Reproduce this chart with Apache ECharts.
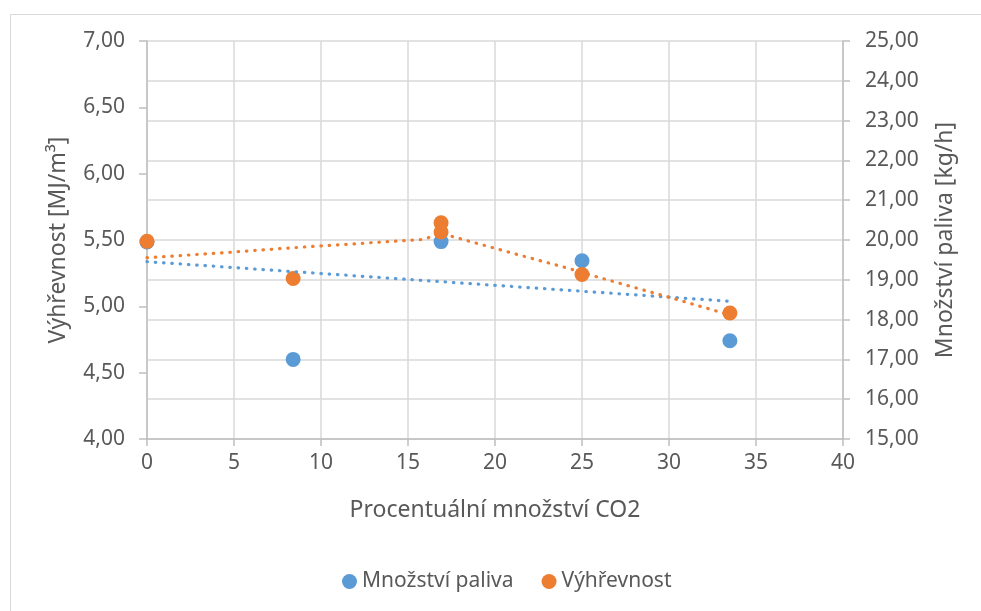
<!DOCTYPE html>
<html>
<head>
<meta charset="utf-8">
<script src="https://cdn.jsdelivr.net/npm/echarts@6/dist/echarts.min.js"></script>
<style>
html,body{margin:0;padding:0;background:#fff;}
#c{width:981px;height:611px;}
</style>
</head>
<body>
<div id="c"></div>
<script>
// Data
var seriesNames = ['Množství paliva', 'Výhřevnost'];
var blueX = [0, 8.4, 16.9, 25, 33.5];
var blueY = [19.95, 17.0, 19.96, 19.48, 17.47];          // kg/h (right axis)
var orangeX = [0, 8.4, 16.9, 16.9, 25, 33.5];
var orangeY = [5.49, 5.21, 5.63, 5.56, 5.24, 4.95];      // MJ/m3 (left axis)
// trendlines
var blueTrendX = [0, 33.5];
var blueTrendY = [19.455, 18.46];
var orangeTrendX = [0, 4.2, 8.4, 12, 15.9, 16.9, 20.5, 24.2, 25.9, 30.1, 33.5];
var orangeTrendY = [5.367, 5.402, 5.442, 5.472, 5.505, 5.55, 5.419, 5.287, 5.221, 5.065, 4.935];

var xTitle = 'Procentuální množství CO2';
var yLeftTitle = 'Výhřevnost [MJ/m³]';
var yRightTitle = 'Množství paliva [kg/h]';

function zip(a, b) { return a.map(function (v, i) { return [v, b[i]]; }); }
function fmt(v) { return v.toFixed(2).replace('.', ','); }

var BLUE = '#5B9BD5', ORANGE = '#ED7D31', TXT = '#595959', GRID = '#D9D9D9', AX = '#BFBFBF';
var FONT = 'Noto Sans';

var chart = echarts.init(document.getElementById('c'));
chart.setOption({
  animation: false,
  textStyle: { fontFamily: FONT },
  graphic: [{
    type: 'rect', left: 8, top: 12, shape: { width: 1000, height: 700 },
    style: { fill: 'none', stroke: GRID, lineWidth: 1 }, silent: true
  }],
  grid: { left: 147, right: 138, top: 41, bottom: 172 },
  legend: {
    data: seriesNames, bottom: 14, left: 337, icon: 'circle',
    itemWidth: 15, itemHeight: 15, itemGap: 28,
    textStyle: { color: TXT, fontSize: 21, fontFamily: FONT }
  },
  xAxis: {
    type: 'value', min: 0, max: 40, interval: 5,
    name: xTitle, nameLocation: 'middle', nameGap: 60,
    nameTextStyle: { color: TXT, fontSize: 23, fontFamily: FONT },
    axisLine: { show: true, lineStyle: { color: AX, width: 1.5 } },
    axisTick: { show: true, length: 7, lineStyle: { color: AX, width: 1.5 } },
    axisLabel: { color: TXT, fontSize: 21, margin: 14, fontFamily: FONT },
    splitLine: { show: true, lineStyle: { color: GRID, width: 1.5 } }
  },
  yAxis: [{
    type: 'value', min: 4, max: 7, interval: 0.5, position: 'left',
    name: yLeftTitle, nameLocation: 'middle', nameGap: 77,
    nameTextStyle: { color: TXT, fontSize: 23, fontFamily: FONT },
    axisLine: { show: true, lineStyle: { color: AX, width: 1.5 } },
    axisTick: { show: true, length: 8, lineStyle: { color: AX, width: 1.5 } },
    axisLabel: { color: TXT, fontSize: 21, margin: 22, formatter: fmt, fontFamily: FONT },
    splitLine: { show: false }
  }, {
    type: 'value', min: 15, max: 25, interval: 1, position: 'right',
    name: yRightTitle, nameLocation: 'middle', nameGap: 91, nameRotate: 90,
    nameTextStyle: { color: TXT, fontSize: 23, fontFamily: FONT },
    axisLine: { show: true, lineStyle: { color: AX, width: 1.5 } },
    axisTick: { show: true, length: 7, lineStyle: { color: AX, width: 1.5 } },
    axisLabel: { color: TXT, fontSize: 21, margin: 22, formatter: fmt, fontFamily: FONT },
    splitLine: { show: true, lineStyle: { color: GRID, width: 1.5 } }
  }],
  series: [{
    name: seriesNames[0], type: 'scatter', yAxisIndex: 1,
    symbolSize: 15, itemStyle: { color: BLUE, opacity: 1 },
    data: zip(blueX, blueY), z: 3
  }, {
    name: seriesNames[1], type: 'scatter', yAxisIndex: 0,
    symbolSize: 15, itemStyle: { color: ORANGE, opacity: 1 },
    data: zip(orangeX, orangeY), z: 4
  }, {
    name: 'trend1', type: 'line', yAxisIndex: 1, showSymbol: false, symbol: 'none',
    lineStyle: { color: BLUE, width: 3.2, type: [0.5, 7.8], cap: 'round' },
    data: zip(blueTrendX, blueTrendY), z: 5, silent: true
  }, {
    name: 'trend2', type: 'line', yAxisIndex: 0, showSymbol: false, symbol: 'none',
    lineStyle: { color: ORANGE, width: 3.2, type: [0.5, 7.8], cap: 'round' },
    data: zip(orangeTrendX, orangeTrendY), z: 5, silent: true
  }]
});
</script>
</body>
</html>
